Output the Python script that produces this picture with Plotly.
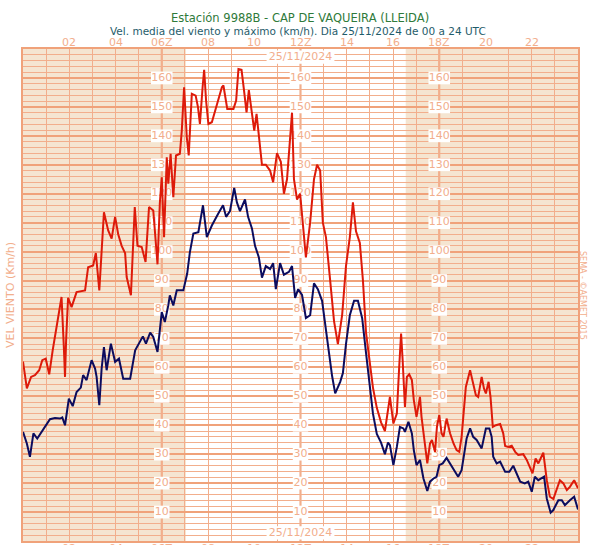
import plotly.graph_objects as go

# ---- data (minutes since 00 UTC, km/h) ----
max_min = [0, 10, 21, 31, 42, 50, 59, 68, 77, 89, 96, 100, 106, 109, 112, 117, 126, 139, 161, 169,
           182, 189, 198, 204, 210, 221, 230, 239, 247, 256, 265, 269, 280, 290, 297, 308, 318, 327,
           338, 349, 355, 360, 366, 373, 377, 383, 390, 397, 407, 412, 418, 425, 430, 438, 448, 454,
           459, 466, 470, 475, 481, 490, 503, 516, 520, 530, 546, 553, 559, 567, 573, 580, 586, 593,
           600, 606, 612, 620, 630, 641, 649, 659, 669, 677, 685, 693, 698, 703, 711, 719, 727, 734,
           745, 755, 763, 771, 778, 786, 797, 807, 817, 828, 838, 848, 856, 864, 874, 882, 890, 900,
           908, 918, 929, 939, 947, 952, 961, 970, 976, 981, 985, 991, 996, 1002, 1009, 1014, 1021,
           1030, 1034, 1043, 1049, 1056, 1061, 1069, 1074, 1080, 1086, 1091, 1099, 1108, 1117, 1125,
           1132, 1138, 1144, 1149, 1160, 1167, 1175, 1181, 1190, 1196, 1201, 1208, 1213, 1219, 1227,
           1238, 1246, 1251, 1259, 1268, 1277, 1285, 1298, 1307, 1315, 1322, 1330, 1337, 1343, 1350,
           1359, 1367, 1376, 1385, 1393, 1402, 1411, 1419, 1430, 1440]
max_kmh = [62, 52.7, 56.7, 57.3, 59, 62.5, 63, 57.6, 65.9, 75, 81, 84.3, 67, 56.7, 70, 84, 80.8, 86,
           86.6, 94.6, 95.2, 99.5, 86.6, 99.8, 113.6, 107.3, 104.5, 112, 106, 102, 99.4, 91.2, 84.9,
           115.4, 102, 101.6, 96.4, 115.4, 114.2, 95.6, 116.6, 125.7, 105, 132.6, 123.5, 133.8, 118.8,
           133.2, 133.8, 141.8, 156.8, 139.5, 133.2, 154.5, 153.9, 149.9, 144.1, 156.8, 162.8, 152.2,
           144.1, 144.7, 151, 156.8, 157.4, 149.3, 149.3, 152.2, 163.1, 162.8, 156.2, 148.1, 155.8,
           148.7, 141.8, 147.6, 139.5, 130, 130, 128, 124, 134, 131, 120, 125, 140, 148, 125, 118, 120,
           108, 98, 110, 125, 130, 128, 110, 105, 90, 76, 68, 78, 95, 105, 117, 107, 103, 90, 72, 62,
           53, 46, 41, 38, 45, 49.8, 40.6, 44, 60, 71.7, 62.5, 46.3, 56.7, 57.6, 55.6, 48.7, 42.9, 49.8,
           42.9, 32.5, 26.8, 33.7, 34.9, 30.8, 39.4, 43.5, 37.2, 36, 42.3, 37.2, 33.7, 31.4, 30.8, 36,
           45.2, 53.2, 59, 55, 50.4, 49.8, 56.7, 52.7, 51, 55, 49.8, 39.4, 40, 40.4, 37.2, 32.8, 32.5,
           32.9, 30.8, 29.7, 30, 28, 25.6, 23.4, 28.5, 26.8, 28.5, 30.5, 21, 15.3, 14.5, 17.6, 21, 19.9,
           17.6, 18.7, 21, 18.2]

mean_min = [0, 10, 18, 27, 37, 49, 61, 70, 83, 96, 102, 109, 119, 129, 139, 150, 156, 165, 178, 187,
            191, 198, 204, 210, 217, 228, 239, 249, 260, 278, 291, 302, 311, 319, 330, 338, 349, 360,
            368, 377, 381, 390, 399, 416, 426, 433, 442, 455, 467, 477, 490, 506, 519, 527, 537, 548,
            555, 563, 576, 584, 594, 602, 612, 620, 630, 641, 649, 656, 667, 677, 690, 698, 706, 714,
            724, 734, 745, 755, 765, 776, 784, 791, 802, 810, 823, 830, 838, 848, 859, 869, 880, 890,
            900, 908, 918, 929, 939, 947, 952, 961, 970, 978, 987, 991, 1000, 1009, 1014, 1021, 1030,
            1039, 1049, 1056, 1065, 1073, 1080, 1089, 1099, 1108, 1118, 1129, 1138, 1144, 1151, 1160,
            1168, 1177, 1190, 1201, 1210, 1216, 1220, 1229, 1238, 1251, 1262, 1272, 1281, 1290, 1302,
            1311, 1320, 1328, 1337, 1346, 1352, 1359, 1369, 1376, 1389, 1398, 1406, 1419, 1430, 1440]
mean_kmh = [37.7, 33.7, 29.1, 37.2, 35.4, 37.7, 40, 42.1, 42.5, 42.3, 42.7, 40, 49.2, 46.6, 51.5, 53,
            57.3, 55.6, 62.5, 59.6, 56.7, 46.9, 59.6, 67, 59, 68.2, 61.9, 63, 56.1, 56.1, 65.9, 68.8,
            70.7, 68.2, 72, 70.5, 65.3, 79.1, 75.7, 81.4, 84.9, 81.4, 86.6, 86.6, 92.4, 99.8, 106.2,
            106.7, 116, 105, 109, 113, 116, 112, 114, 122, 117, 114, 118, 112, 108, 102, 98, 91, 95, 94,
            96, 87, 96, 92, 93, 95, 84, 87, 85, 77, 78, 89, 87, 83, 75, 68, 57, 51, 55, 58, 68, 78, 83,
            83, 77, 65, 52, 44, 37, 34, 30, 34, 33.1, 26.2, 32.5, 39.4, 38.9, 37.7, 41.2, 37.2, 31.4,
            26.2, 28, 21.6, 17.3, 20.5, 21.6, 22.2, 26.2, 26.8, 28.7, 26.8, 24.5, 22.2, 24.5, 30.3,
            35.4, 38.9, 36, 34.9, 32, 38.9, 38.9, 36, 29.1, 26.8, 27.4, 23.9, 23.9, 26, 23.4, 20.5,
            19.9, 20.5, 17, 22.2, 21, 21.6, 22.2, 14.7, 9.8, 10.7, 14.1, 14.1, 12.4, 14.1, 15.3, 10.9]

hour_ticks = [120, 240, 360, 480, 600, 720, 840, 960, 1080, 1200, 1320]
hour_labels = ["02", "04", "06Z", "08", "10", "12Z", "14", "16", "18Z", "20", "22"]
y_label_vals = [10, 20, 30, 40, 50, 60, 70, 80, 90, 100, 110, 120, 130, 140, 150, 160]
y_label_cols = [360, 720, 1080]
night_spans = [(0, 423), (993, 1440)]
date_text = "25/11/2024"
date_rows = [167.2, 2.8]

ORANGE = "#f0a27a"
MINOR = "#f2ae8c"
LABEL = "#f2ae8c"
BEIGE = "#f5e5d1"
FONT = "DejaVu Sans"

W, H = 590, 545
L, R, T, B = 23, 12, 49, 4

fig = go.Figure()

shapes = []
for a, b in night_spans:
    shapes.append(dict(type="rect", xref="x", yref="paper", x0=a, x1=b, y0=0, y1=1,
                       fillcolor=BEIGE, line=dict(width=0), layer="below"))
for m in [360, 720, 1080]:
    shapes.append(dict(type="line", xref="x", yref="paper", x0=m, x1=m, y0=0, y1=1,
                       line=dict(color=ORANGE, width=2), layer="between"))
# white boxes behind the in-plot value labels (above grid, below data lines)
for c in y_label_cols:
    for v in y_label_vals:
        w = 28 if v >= 100 else 20
        shapes.append(dict(type="rect", xref="x", yref="y", x0=c - w, x1=c + w,
                           y0=v - 2.2, y1=v + 2.2, fillcolor="white", line=dict(width=0),
                           layer="between"))
for yy in date_rows:
    shapes.append(dict(type="rect", xref="x", yref="y", x0=720 - 88, x1=720 + 88,
                       y0=yy - 2.3, y1=yy + 2.3, fillcolor="white", line=dict(width=0),
                       layer="between"))

lab_x, lab_y, lab_t = [], [], []
for c in y_label_cols:
    for v in y_label_vals:
        lab_x.append(c)
        lab_y.append(v)
        lab_t.append(str(v))
for yy in date_rows:
    lab_x.append(720)
    lab_y.append(yy)
    lab_t.append(date_text)
fig.add_trace(go.Scatter(x=lab_x, y=lab_y, text=lab_t, mode="text",
                         textfont=dict(family=FONT, size=11, color=LABEL),
                         hoverinfo="skip", showlegend=False, cliponaxis=False))

fig.add_trace(go.Scatter(x=max_min, y=max_kmh, mode="lines",
                         line=dict(color="#dd1a0a", width=2), hoverinfo="skip", showlegend=False))
fig.add_trace(go.Scatter(x=mean_min, y=mean_kmh, mode="lines",
                         line=dict(color="#0c0c5e", width=2), hoverinfo="skip", showlegend=False))


def py(y):
    return 1 - (y - T) / (H - T - B)


def pxx(x):
    return (x - L) / (W - L - R)


annotations = []
for txt, x, y, ang, size, col in [
    ("VEL VIENTO (Km/h)", 10, 295, -90, 11, LABEL),
    ("SEMA - ©AEMET 2015", 583, 295, 90, 8, LABEL),
    ("Estación 9988B - CAP DE VAQUEIRA (LLEIDA)", 300, 18, 0, 11.5, "#2f7a3a"),
    ("Vel. media del viento y máximo (km/h). Dia 25/11/2024 de 00 a 24 UTC", 298, 31, 0, 10.5, "#1f5c6a"),
]:
    annotations.append(dict(x=pxx(x), y=py(y), xref="paper", yref="paper", text=txt,
                            showarrow=False, textangle=ang, xanchor="center", yanchor="middle",
                            font=dict(family=FONT, size=size, color=col)))
# hour labels above and below the plot
for tv, tl in zip(hour_ticks, hour_labels):
    for yy in (42, 548):
        annotations.append(dict(x=tv, y=py(yy), xref="x", yref="paper", text=tl,
                                showarrow=False, xanchor="center", yanchor="middle",
                                font=dict(family=FONT, size=11, color=LABEL)))

fig.update_layout(
    width=W, height=H,
    margin=dict(l=L, r=R, t=T, b=B, autoexpand=False),
    paper_bgcolor="white", plot_bgcolor="white",
    shapes=shapes, annotations=annotations,
    xaxis=dict(range=[0, 1440], showticklabels=False, ticks="", automargin=False,
               showgrid=False, zeroline=False,
               showline=True, linecolor=ORANGE, linewidth=2, mirror=True,
               minor=dict(dtick=60, tick0=0, showgrid=True, gridcolor=MINOR, gridwidth=1)),
    yaxis=dict(range=[0, 170], showticklabels=False, ticks="", dtick=10, tick0=0, automargin=False,
               showgrid=True, gridcolor=ORANGE, gridwidth=2, zeroline=False,
               showline=True, linecolor=ORANGE, linewidth=2, mirror=True,
               minor=dict(dtick=2, tick0=0, showgrid=True, gridcolor=MINOR, gridwidth=1)),
    showlegend=False,
)

fig.write_html("out.html", config={"displayModeBar": False},
               post_script="document.body.style.margin='0';")
